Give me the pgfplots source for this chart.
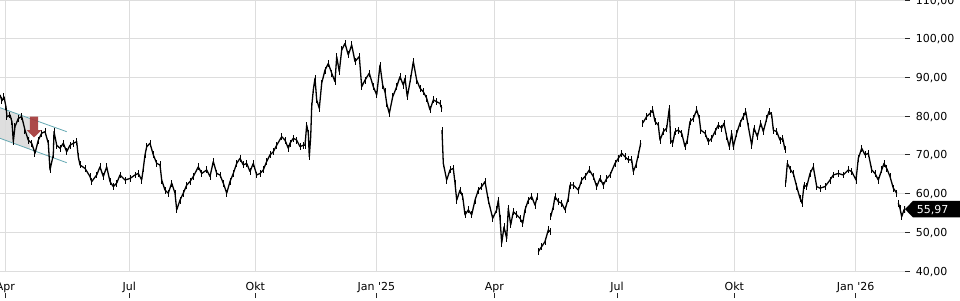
\documentclass[border=0pt]{standalone}
\usepackage{pgfplots}
\pgfplotsset{compat=1.18}
\usepackage{fontspec}
\newfontfamily\dv{DejaVu Sans}
\definecolor{gridc}{RGB}{221,221,221}
\definecolor{chan}{RGB}{100,168,178}
\definecolor{arr}{RGB}{165,58,58}
\definecolor{chfill}{RGB}{218,218,218}
\begin{document}
\begin{tikzpicture}[x=1pt,y=1pt,font=\dv\fontsize{11}{13}\selectfont]
\begin{axis}[
  at={(0pt,29pt)}, anchor=south west,
  width=905pt, height=271pt, scale only axis,
  xmin=0, xmax=905, ymin=40, ymax=110,
  axis line style={draw=none},
  grid=major,
  major grid style={gridc, line width=0.8pt},
  xtick={5.3,129.3,255.3,376.3,494.3,617,734.3,855.7},
  xticklabels={Apr,Jul,Okt,Jan '25,Apr,Jul,Okt,Jan '26},
  ytick={40,50,60,70,80,90,100,110},
  xtick pos=bottom, ytick pos=right, yticklabel pos=right,
  tick align=outside, major tick length=5pt,
  ytick style={black!85, line width=0.8pt},
  xtick style={black!85, line width=0.8pt, yshift=-22pt},
  ticklabel style={font=\dv\fontsize{11}{13}\selectfont},
  xticklabel style={text height=8pt, text depth=2.5pt, yshift=-3pt},
  yticklabel style={anchor=west, xshift=2.3pt, text depth=0pt,
     /pgf/number format/.cd, fixed, fixed zerofill, precision=2, use comma, 1000 sep={}},
  /pgf/number format/assume math mode=true,
  clip mode=individual,
]
% trend channel
\fill[chfill, fill opacity=0.9] (axis cs:-5,82.65) -- (axis cs:30,79.40) -- (axis cs:30,71.45) -- (axis cs:-5,74.75) -- cycle;
\addplot[chan, line width=0.8pt] coordinates {(-5,82.65) (66.7,75.99)};
\addplot[chan, line width=0.8pt] coordinates {(-5,74.75) (66.7,67.98)};
% price
\addplot[black, line width=1.3pt, line join=round, unbounded coords=jump,
  error bars/.cd, y dir=both, y fixed=0.9, error mark=none,
  error bar style={line width=1pt}] table {
x y
0 85.5
2 84.0
4 85.0
6 82.4
7 79.8
10 80.3
12 78.5
13.3 73.4
15 77.3
18.3 79.4
21.7 79.9
25 76.4
28.3 73.8
31.7 73.0
35 70.4
38.3 73.8
41.7 75.6
45 76.0
48.3 73.0
50 66.1
53.3 70.0
54 76.0
56.7 72.5
60 71.7
63.3 73.0
66.7 70.8
70 72.5
73.3 73.0
76.7 73.4
78.3 69.5
80 67.4
85 66.5
90 64.4
91.7 63.1
96.7 64.8
100 66.9
103.3 64.4
106.7 66.9
110 63.1
113.3 61.8
116.7 62.7
120 64.8
125 63.5
130 63.9
135 64.8
138.3 65.2
141.7 63.5
143.3 66.5
145 70
146.7 72.1
150 73
153.3 70
156.7 67.8
160 67.4
161.7 63.5
165 60.9
168.3 60.1
171.7 62.7
175 60.1
176.7 55.8
180 58.3
183.3 60.1
186.7 62.2
190 63.1
193.3 64.4
198.3 66.9
201.7 65.2
206.7 66.1
210 64.4
213.3 68.3
216.7 65.2
220 64.8
223.3 62.7
226.7 60.1
230 63.1
233.3 65.2
236.7 67.8
240 69.1
243.3 67.4
246.7 67.8
250 65.7
253.3 67.8
256.7 64.8
260 65.2
263.3 66.1
266.7 68.3
270 70
273.3 70.8
276.7 72.5
281.7 74.7
285 73.8
288.3 71.7
290 73
293.3 74.3
296.7 73.8
300 72.1
303.3 72.5
305 72.5
306.7 77.7
308.3 75.6
309.3 69.5
310.7 74.7
311.7 82.4
313.3 86.8
315 89.8
316.7 84.2
319.3 82.0
321.7 88.5
325 91.9
328.3 93.6
331.7 91.1
335 88.9
336.7 95.4
339.3 91.5
341.7 97.1
345 98.8
348.3 95.8
351.7 98.4
355 94.1
359.3 95.4
361.7 87.6
365 89.3
369.3 91.1
373.3 87.6
376.7 85.5
380 93.2
382.7 88.0
385 86.3
386.7 83.3
389.3 80.7
392.7 85.0
396.7 87.6
400 90.2
403.3 88.0
405 89.8
407.3 85.0
410.7 89.8
413.3 94.1
416.7 89.3
420 87.2
423.3 86.3
426.7 84.6
430 81.6
433.3 84.2
436.7 83.7
440 83.3
441.7 82.0
441.8 nan
442 76.4
443.3 67.8
446.7 63.5
450 66.1
453.3 66.5
455 62.7
456.7 58.3
460 60.9
462.7 59.2
465 54.5
468.3 55.8
471.7 54.5
475 58.3
478.3 60.9
481.7 61.8
485 63.1
488.3 58.3
492.7 53.6
496.7 55.8
498.3 58.3
500 53.6
501.7 47.2
504 51.4
506.7 48.4
508.3 56.2
510.7 51.9
513.3 55.3
516.7 54.5
520 53.6
522.7 52.3
525 55.8
528.3 58.3
531.7 59.2
535 57.0
537.3 59.2
537.8 nan
538.3 45.0
541.7 46.3
545 47.6
548.3 50.6
550 50.2
550.3 nan
550.7 54.0
553.3 56.6
555 59.2
558.3 57.9
561.7 57.5
565 55.8
568.3 58.8
570 62.2
573.3 62.2
578.3 60.9
581.7 63.5
585 64.4
589.3 66.1
593.3 64.4
596.7 61.8
600 63.9
603.3 62.2
606.7 63.9
610 64.8
615 67.8
618.3 69.1
621.7 70.4
625 69.5
628.3 68.7
631.7 68.7
633.3 65.7
636 67.4
638.3 70.0
640.7 73.0
641.5 nan
642.7 78.2
646.7 79.9
650 80.7
652.7 81.6
655 78.6
658.3 77.7
660 73.8
663.3 76.0
666.7 76.9
669.3 82.0
670.7 73.8
672.7 73.0
675 76.0
678.3 76.4
681.7 75.6
685 72.1
687.3 73.8
690 78.6
693.3 79.4
696.7 81.6
699.3 79.4
700.7 76.4
705 75.6
708.3 73.4
711.7 74.3
715 76.0
718.3 77.7
721.7 76.9
724 78.2
726.7 74.7
729.3 72.1
731.7 75.6
733.3 72.1
736.7 75.6
740 78.2
743.3 79.9
745.7 81.2
748.3 77.3
751.7 72.5
754 76.9
757.3 74.7
760.7 78.2
763.3 76.0
766.7 79.4
769 81.2
771.7 80.3
773.3 76.4
776.7 76.0
780 73.8
782.7 74.3
785 71.3
785.3 nan
785.7 62.7
787.3 67.8
790.7 66.1
793.3 65.2
796.7 61.8
800 58.8
802 57.5
804 62.2
806.7 61.8
810 65.2
813.3 66.9
816.7 61.8
820 61.4
825 61.8
830 63.5
833.3 64.8
838.3 65.2
843.3 64.8
848.3 66.1
851.7 65.7
856 63.5
858.3 69.1
861.7 71.7
865 70.0
868.3 70.4
871.7 66.1
875 65.2
878.3 63.5
881.7 66.1
884 67.8
886.7 66.5
890 64.4
893.3 61.4
896.7 60.1
897.5 nan
898.3 57.5
900 56.2
901.7 54.0
904 55.8
905 55.97
};
% signal arrow
\fill[arr, fill opacity=0.92] (axis cs:30,79.9) -- (axis cs:38,79.9) -- (axis cs:38,76.4) -- (axis cs:41.7,76.4) -- (axis cs:34,74.5) -- (axis cs:26.7,76.4) -- (axis cs:30,76.4) -- cycle;
\coordinate (tg) at (axis cs:905,55.97);
\end{axis}
\fill[black] (tg) -- ++(8,8.3) -- ++(60,0) -- ++(0,-16.6) -- ++(-60,0) -- cycle;
\node[anchor=west, xshift=11.7pt, text=white, inner sep=0pt, text depth=0pt, font=\dv\fontsize{11}{13}\selectfont] at (tg) {55,97};
\pgfresetboundingbox
\useasboundingbox (0,0) rectangle (960,300);
\end{tikzpicture}
\end{document}
